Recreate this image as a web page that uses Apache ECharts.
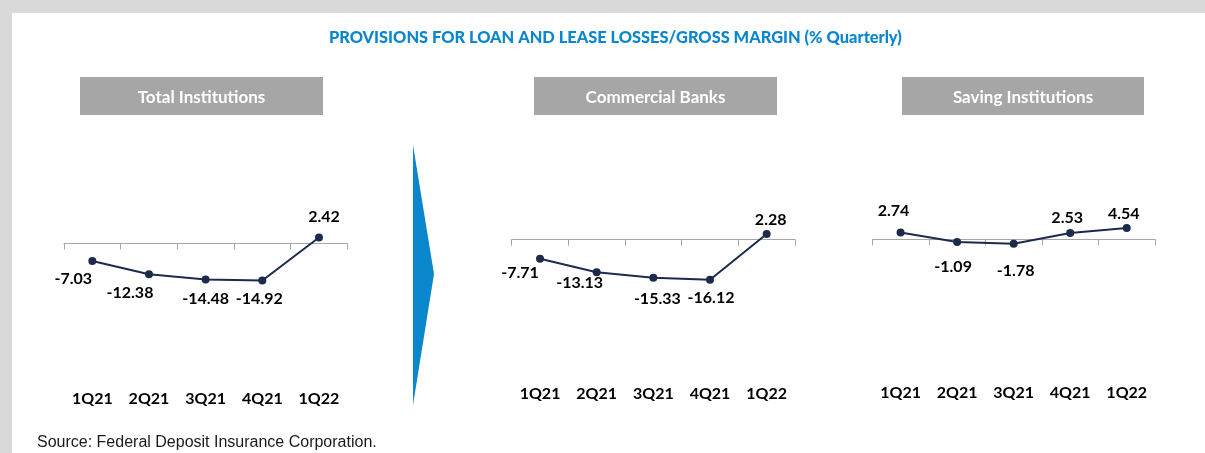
<!DOCTYPE html>
<html>
<head>
<meta charset="utf-8">
<script src="https://cdn.jsdelivr.net/npm/echarts@6/dist/echarts.min.js"></script>
<style>
  html, body { margin: 0; padding: 0; background: #ffffff; }
  #chart { width: 1205px; height: 453px; }
</style>
</head>
<body>
<div id="chart"></div>
<script>
// Quarterly provisions for loan and lease losses as % of gross margin
const quarters = ['1Q21', '2Q21', '3Q21', '4Q21', '1Q22'];
const totalInstitutions = [-7.03, -12.38, -14.48, -14.92, 2.42];
const commercialBanks = [-7.71, -13.13, -15.33, -16.12, 2.28];
const savingInstitutions = [2.74, -1.09, -1.78, 2.53, 4.54];
const panelTitles = ['Total Institutions', 'Commercial Banks', 'Saving Institutions'];

const chartTitle = 'PROVISIONS FOR LOAN AND LEASE LOSSES/GROSS MARGIN (% Quarterly)';
const sourceNote = 'Source: Federal Deposit Insurance Corporation.';

// Panel layout: plot area, header box and where each value label sits
const panels = [
  {
    values: totalInstitutions, left: 64, width: 283.3, top: 193.9, labelMargin: 8,
    header: { x: 80, y: 77, w: 243, h: 38 },
    labelOffsets: [[-19, 18], [-19, 19], [0, 19], [-3, 18], [5, -21]]
  },
  {
    values: commercialBanks, left: 511.7, width: 283.3, top: 190.1, labelMargin: 7,
    header: { x: 534, y: 77, w: 243, h: 38 },
    labelOffsets: [[-20, 14], [-17, 11], [4, 21], [1, 18], [4, -14]]
  },
  {
    values: savingInstitutions, left: 872.3, width: 282.7, top: 189.7, labelMargin: 7,
    header: { x: 902, y: 77, w: 242, h: 38 },
    labelOffsets: [[-7, -22], [-4, 25], [2, 27], [-3, -15], [-3, -14]]
  }
];

const Y_MIN = -56, Y_MAX = 20, PX_PER_UNIT = 2.48;
const gridHeight = (Y_MAX - Y_MIN) * PX_PER_UNIT;

const lineColor = '#1c2b4c';
const labelFont = 'Lato, "Open Sans", sans-serif';

const grids = [], xAxes = [], yAxes = [], series = [], graphics = [];

// Grey page frame on the top and left edges
graphics.push({ type: 'rect', shape: { x: 0, y: 0, width: 1205, height: 13 }, style: { fill: '#d9d9d9' }, silent: true });
graphics.push({ type: 'rect', shape: { x: 0, y: 0, width: 12, height: 453 }, style: { fill: '#d9d9d9' }, silent: true });

panels.forEach((p, i) => {
  grids.push({ left: p.left, top: p.top, width: p.width, height: gridHeight, containLabel: false });

  // Zero line with boundary ticks
  xAxes.push({
    type: 'category', gridIndex: i, data: quarters, boundaryGap: true,
    axisLine: { show: true, onZero: true, lineStyle: { color: '#a6a6a6', width: 1 } },
    axisTick: { show: true, length: 6, lineStyle: { color: '#a6a6a6' } },
    axisLabel: { show: false }, splitLine: { show: false }
  });
  // Quarter labels along the bottom
  xAxes.push({
    type: 'category', gridIndex: i, data: quarters, position: 'bottom', boundaryGap: true,
    axisLine: { show: false, onZero: false }, axisTick: { show: false },
    axisLabel: { show: true, margin: p.labelMargin, color: '#000000', fontFamily: labelFont, fontWeight: 'bold', fontSize: 16 },
    splitLine: { show: false }
  });
  yAxes.push({ type: 'value', gridIndex: i, min: Y_MIN, max: Y_MAX, show: false, splitLine: { show: false } });

  series.push({
    type: 'line', xAxisIndex: i * 2, yAxisIndex: i,
    data: p.values.map((v, k) => ({
      value: v,
      label: { offset: p.labelOffsets[k] }
    })),
    symbol: 'circle', symbolSize: 8,
    lineStyle: { color: lineColor, width: 2 },
    itemStyle: { color: lineColor },
    label: {
      show: true, position: 'inside',
      formatter: (d) => d.value.toFixed(2),
      color: '#000000', fontFamily: labelFont, fontWeight: 'bold', fontSize: 16
    },
    animation: false, silent: true
  });

  // Panel header box
  graphics.push({
    type: 'rect', shape: { x: p.header.x, y: p.header.y, width: p.header.w, height: p.header.h },
    style: { fill: '#a6a6a6' }, silent: true
  });
  graphics.push({
    type: 'text', x: p.header.x + p.header.w / 2, y: p.header.y + p.header.h / 2 + 1.5,
    style: {
      text: panelTitles[i], fill: '#ffffff', font: 'bold 17px ' + labelFont,
      align: 'center', verticalAlign: 'middle'
    }, silent: true
  });
});

// Blue chevron between the first and second panels
graphics.push({
  type: 'polygon', shape: { points: [[413, 145], [434, 274], [413, 405]] },
  style: { fill: '#0a86cd' }, silent: true
});

// Source note
graphics.push({
  type: 'text', x: 37, y: 443,
  style: { text: sourceNote, fill: '#1a1a1a', font: '16px "Liberation Sans", Arial, sans-serif', verticalAlign: 'middle' },
  silent: true
});

const chart = echarts.init(document.getElementById('chart'), null, { renderer: 'canvas' });
chart.setOption({
  animation: false,
  backgroundColor: '#ffffff',
  title: {
    text: chartTitle, left: 324, top: 25,
    textStyle: { color: '#0a86cd', fontFamily: labelFont, fontWeight: 900, fontSize: 16.4 }
  },
  grid: grids, xAxis: xAxes, yAxis: yAxes, series: series,
  graphic: graphics
});
</script>
</body>
</html>
